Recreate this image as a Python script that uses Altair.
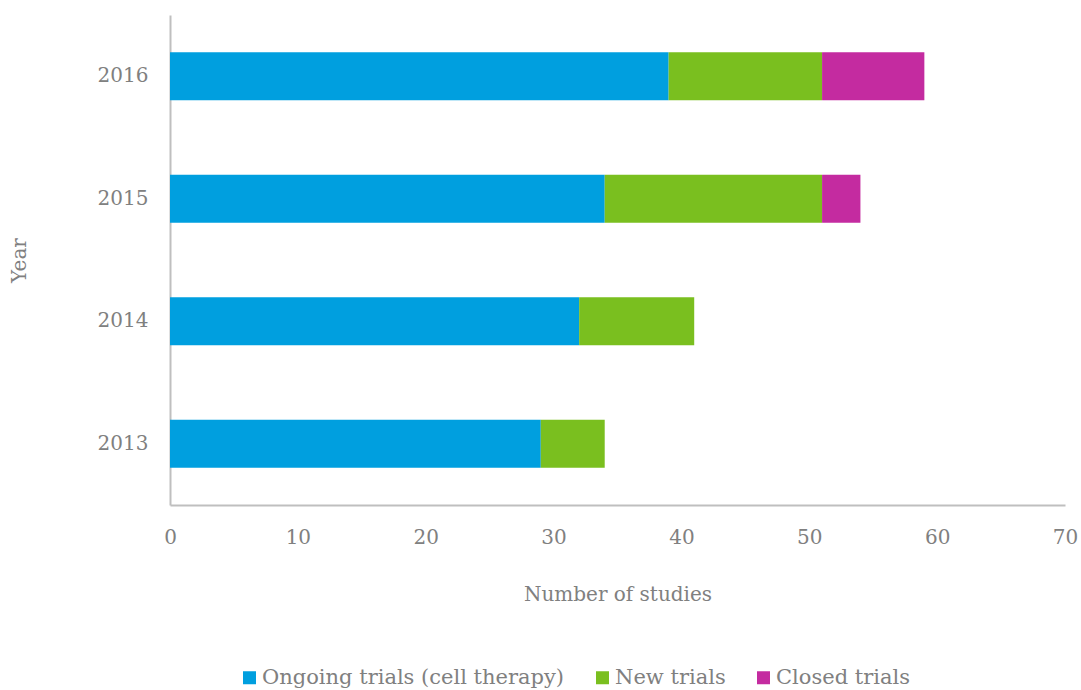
import altair as alt
import pandas as pd

years = ["2013", "2014", "2015", "2016"]
ongoing = [29, 32, 34, 39]
new = [5, 9, 17, 12]
closed = [0, 0, 3, 8]
series = ["Ongoing trials (cell therapy)", "New trials", "Closed trials"]
colors = ["#009FDF", "#7ABF1F", "#C42BA0"]

rows = []
for i, y in enumerate(years):
    for k, (s, vals) in enumerate(zip(series, [ongoing, new, closed])):
        rows.append({"Year": y, "Series": s, "Value": vals[i], "order": k})
df = pd.DataFrame(rows)

FONT = "DejaVu Serif"
GRAY = "#808080"
LINE = "#BFBFBF"

chart = alt.Chart(df).mark_bar().encode(
    y=alt.Y("Year:N", sort=list(reversed(years)),
            scale=alt.Scale(paddingInner=0.61, paddingOuter=0.305),
            axis=alt.Axis(title="Year", ticks=False, labelPadding=22, titlePadding=68,
                          labelFontSize=20, titleFontSize=20, labelColor=GRAY, titleColor=GRAY,
                          labelFont=FONT, titleFont=FONT, titleFontWeight="normal",
                          domainColor=LINE, domainWidth=2)),
    x=alt.X("Value:Q", scale=alt.Scale(domain=[0, 70], nice=False),
            axis=alt.Axis(title="Number of studies", values=[0, 10, 20, 30, 40, 50, 60, 70],
                          grid=False, ticks=False, labelPadding=22, titlePadding=37,
                          labelFontSize=20, titleFontSize=20, labelColor=GRAY, titleColor=GRAY,
                          labelFont=FONT, titleFont=FONT, titleFontWeight="normal",
                          domainColor=LINE, domainWidth=2, labelFlush=False)),
    color=alt.Color("Series:N", sort=series,
                    scale=alt.Scale(domain=series, range=colors),
                    legend=alt.Legend(title=None, orient="none", direction="horizontal",
                                      legendX=69, legendY=652, symbolType="square",
                                      symbolSize=169, symbolStrokeWidth=0, labelOffset=2,
                                      columnPadding=27, labelFont=FONT, labelFontSize=21,
                                      labelColor=GRAY, labelLimit=400)),
    order=alt.Order("order:Q"),
).properties(
    width=895, height=490,
    autosize=alt.AutoSizeParams(type="none"),
    padding={"left": 170, "top": 15, "right": 16, "bottom": 185},
).configure(background="white").configure_view(strokeWidth=0)

chart.save("out.html", embed_options={"renderer": "svg", "actions": False})
